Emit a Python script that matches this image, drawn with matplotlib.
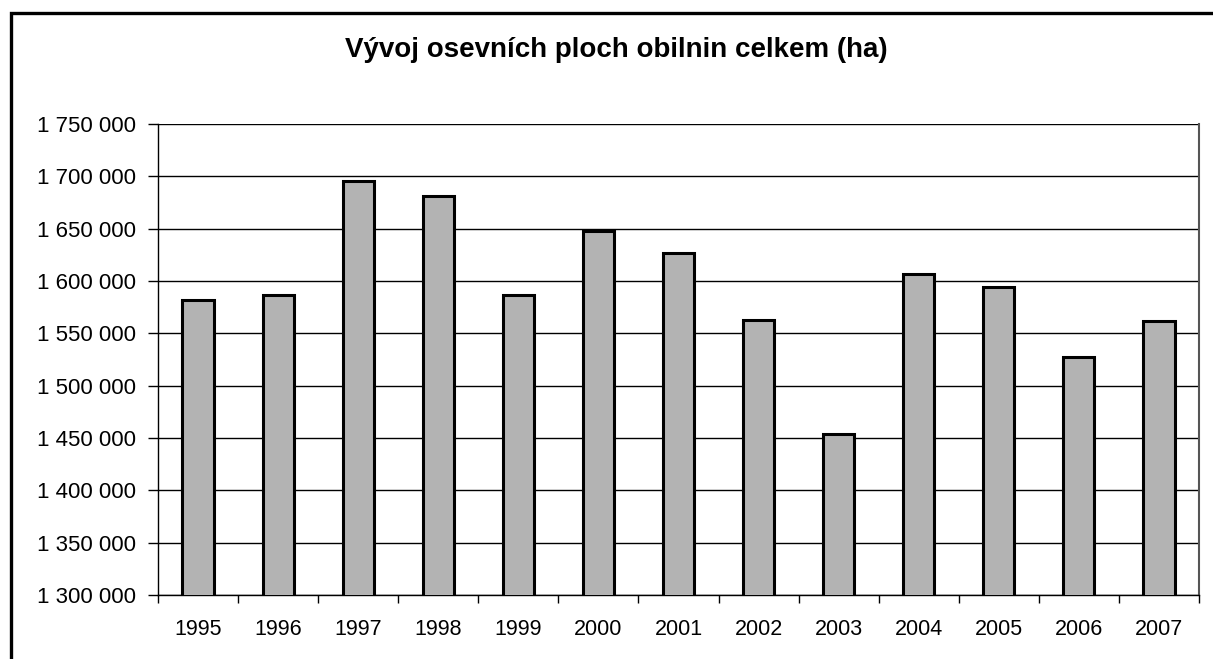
import matplotlib
matplotlib.use("Agg")
import matplotlib.pyplot as plt
from matplotlib.patches import Rectangle
from matplotlib.ticker import FuncFormatter

# Osevni plochy obilnin celkem (ha)
years = ["1995", "1996", "1997", "1998", "1999", "2000", "2001",
         "2002", "2003", "2004", "2005", "2006", "2007"]
area_ha = [1582000, 1587000, 1696000, 1681000, 1587000, 1647500, 1627000,
           1562500, 1453500, 1607000, 1594000, 1527500, 1561500]

plt.rcParams['font.family'] = ['Liberation Sans', 'DejaVu Sans']

W, H = 1213, 659
fig = plt.figure(figsize=(W / 100, H / 100), dpi=100)

# outer chart frame (right and bottom edges run off the picture)
fig.patches.append(Rectangle((11 / W, -0.1), 1.1, 1 - 13 / H + 0.1,
                             transform=fig.transFigure, fill=False,
                             edgecolor='black', linewidth=2.4))

ax = fig.add_axes([158 / W, 1 - 595 / H, (1199 - 158) / W, (595 - 124) / H])

x = list(range(len(years)))
ax.bar(x, area_ha, width=0.39, color='#b3b3b3', edgecolor='black',
       linewidth=2.2, zorder=3)

ax.set_xlim(-0.5, len(years) - 0.5)
ax.set_ylim(1300000, 1750000)
ax.set_yticks(range(1300000, 1750001, 50000))
ax.yaxis.set_major_formatter(FuncFormatter(lambda v, p: f"{int(v):,}".replace(",", " ")))
ax.yaxis.grid(True, color='black', linewidth=1.0, zorder=1)

ax.set_xticks(x)
ax.set_xticklabels(years)
ax.set_xticks([i - 0.5 for i in range(len(years) + 1)], minor=True)
ax.tick_params(axis='x', which='major', length=0, labelsize=15.5, pad=17.5)
ax.tick_params(axis='x', which='minor', length=6, width=1, direction='out')
ax.tick_params(axis='y', length=7, width=1, labelsize=16, pad=8.5)

ax.spines['top'].set_visible(False)
ax.spines['left'].set_linewidth(1.0)
ax.spines['bottom'].set_linewidth(1.0)
ax.spines['right'].set_color('#555555')
ax.spines['right'].set_linewidth(1.5)

fig.text(616 / W, 1 - 57 / H, "Vývoj osevních ploch obilnin celkem (ha)",
         ha='center', va='baseline', fontsize=20, fontweight='bold')

fig.savefig("out.png", dpi=100)
